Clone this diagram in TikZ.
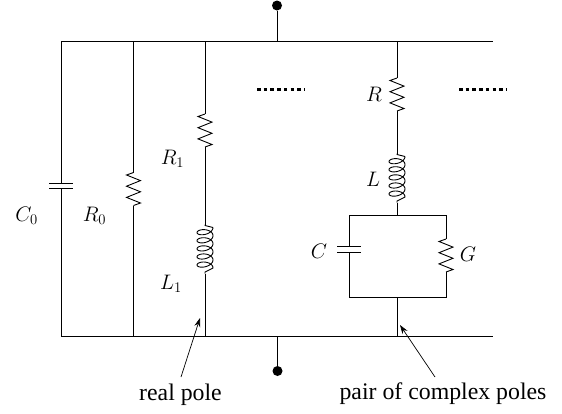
\documentclass[tikz,border=0pt]{standalone}
\usepackage{fix-cm}
\usepackage[no-math]{fontspec}
\newfontfamily\timesf{Liberation Serif}
\usetikzlibrary{arrows.meta}
\tikzset{
  wire/.style={line width=0.95pt,black},
  comp/.style={line width=0.9pt,black,line join=miter},
  plate/.style={line width=0.95pt},
  term/.style={circle,fill=black,inner sep=0pt,minimum size=10pt},
  lbl/.style={inner sep=0pt,font=\fontsize{21}{24}\selectfont},
  captxt/.style={inner sep=0pt,font=\fontsize{23.8}{28}\selectfont\timesf},
  ptr/.style={line width=0.7pt,-{Stealth[length=9pt,width=6pt]}},
  dotted row/.style={line width=2.8pt,dash pattern=on 3.6pt off 3.1pt},
  resistor/.pic={\draw[comp] (0,0) -- (-7,2.5) -- (7,8.1) -- (-7,13.7) -- (7,19.3) -- (-7,24.9) -- (7,30.5) -- (0,33);},
  inductor/.pic={\draw[comp] (0,0) -- (0,1) -- (8,3)
     plot[domain=0:1800,samples=150,smooth] ({8*cos(\x)},{3.5+8.1*\x/360+4.4*sin(\x)-0.5*cos(\x)})
     -- (0,47.5) -- (0,49);}
}
\begin{document}
\begin{tikzpicture}[x=1pt,y=-1pt]
\useasboundingbox (0,0) rectangle (562,413);
% terminals
\node[term] (tt) at (277,5.5) {};
\node[term] (tb) at (277.5,371) {};
% bus points
\coordinate (t0) at (61,41.5);
\coordinate (t1) at (133.5,41.5);
\coordinate (t2) at (205,41.5);
\coordinate (t3) at (277,41.5);
\coordinate (t4) at (397,41.5);
\coordinate (t5) at (492.5,41.5);
\coordinate (b0) at (61,336.5);
\coordinate (b1) at (133.5,336.5);
\coordinate (b2) at (205,336.5);
\coordinate (b3) at (277.5,336.5);
\coordinate (b4) at (397,336.5);
\coordinate (b5) at (492.5,336.5);
\draw[wire] (t0) -- (t5);
\draw[wire] (b0) -- (b5);
\draw[wire] (tt) -- (t3);
\draw[wire] (tb) -- (b3);
% C0
\coordinate (c0a) at (61,183);
\coordinate (c0b) at (61,188.5);
\draw[wire] (t0) -- (c0a);
\draw[wire] (c0b) -- (b0);
\draw[plate] (49,183) -- (73,183);
\draw[plate] (49,188.5) -- (73,188.5);
% R0
\coordinate (r0a) at (133.5,172.5);
\coordinate (r0b) at (133.5,205.5);
\draw[wire] (t1) -- (r0a);
\pic at (r0a) {resistor};
\draw[wire] (r0b) -- (b1);
% R1 L1
\coordinate (r1a) at (205,114);
\coordinate (r1b) at (205,147);
\coordinate (l1a) at (205,224.5);
\coordinate (l1b) at (205,273.5);
\draw[wire] (t2) -- (r1a);
\pic at (r1a) {resistor};
\draw[wire] (r1b) -- (l1a);
\pic at (l1a) {inductor};
\draw[wire] (l1b) -- (b2);
% R L
\coordinate (ra) at (397,78);
\coordinate (rb) at (397,111);
\coordinate (la) at (397,153.5);
\coordinate (lb) at (397,202.5);
\coordinate (bt) at (397,215.5);
\coordinate (bb) at (397,297);
\draw[wire] (t4) -- (ra);
\pic at (ra) {resistor};
\draw[wire] (rb) -- (la);
\pic at (la) {inductor};
\draw[wire] (lb) -- (bt);
% box
\coordinate (blt) at (349,215.5);
\coordinate (brt) at (446,215.5);
\coordinate (blb) at (349,297);
\coordinate (brb) at (446,297);
\coordinate (ca) at (349,246);
\coordinate (cb) at (349,252);
\coordinate (ga) at (446,239);
\coordinate (gb) at (446,272);
\draw[wire] (ca) -- (blt) -- (brt) -- (ga);
\pic at (ga) {resistor};
\draw[wire] (gb) -- (brb) -- (blb) -- (cb);
\draw[plate] (337,246) -- (361,246);
\draw[plate] (337,252) -- (361,252);
\draw[wire] (bb) -- (b4);
% dots
\coordinate (d1a) at (257,89.5);
\coordinate (d1b) at (304,89.5);
\coordinate (d2a) at (459,89.5);
\coordinate (d2b) at (506,89.5);
\draw[dotted row] (d1a) -- (d1b);
\draw[dotted row] (d2a) -- (d2b);
% labels
\node[lbl] (lC0) at (26.5,215.5) {$C_0$};
\node[lbl] (lR0) at (94.5,215.5) {$R_0$};
\node[lbl] (lR1) at (172.5,158.5) {$R_1$};
\node[lbl] (lL1) at (171,283.5) {$L_1$};
\node[lbl] (lR) at (374,94) {$R$};
\node[lbl] (lL) at (373,179) {$L$};
\node[lbl] (lC) at (319,251) {$C$};
\node[lbl] (lG) at (468,254) {$G$};
% captions
\node[captxt] (real) at (180.5,394.5) {real pole};
\node[captxt] (pair) at (443,394) {pair of complex poles};
\coordinate (p1) at (200,318);
\coordinate (p2) at (400,325);
\coordinate (q1) at (181,377);
\coordinate (q2) at (435,377);
\draw[ptr] (q1) -- (p1);
\draw[ptr] (q2) -- (p2);
\end{tikzpicture}
\end{document}
